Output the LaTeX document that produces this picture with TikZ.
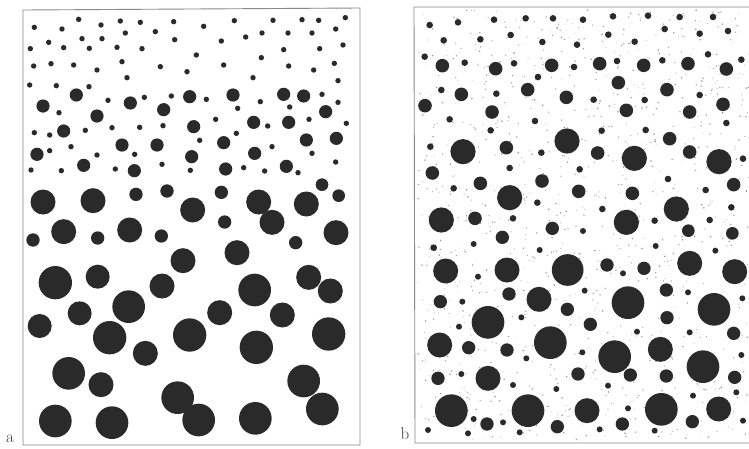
\documentclass[tikz,border=0pt]{standalone}
\usepackage{tikz}
\definecolor{dotc}{HTML}{2A2A2A}
\definecolor{framec}{HTML}{8A8A8A}
\definecolor{specc}{HTML}{9A9A9A}
\tikzset{
  frameline/.style={draw=framec, line width=0.9pt},
  panellabel/.style={font=\fontsize{17}{19}\selectfont, text=black!75, inner sep=0pt, anchor=base}
}
\begin{document}
\begin{tikzpicture}[x=1pt,y=-1pt]
\useasboundingbox[fill=white] (0,0) rectangle (749,448);

% ---------- panel a frame ----------
\draw[frameline] (23,10) -- (23,445) -- (360,445) -- (360,8) -- cycle;
\node[panellabel] (la) at (10,442) {a};

% panel a, upper part (small dots)
\foreach \x/\y in {155/43,222/60,280/48,340/52,440/50,530/64,622/47,738/46,825/44,875/46,955/38,22/67,105/72,926/72,
295/84,385/80,165/101,225/101,65/112,443/104,583/108,656/96,705/84,783/84,855/84,
10/131,110/128,187/130,270/127,345/131,770/134,878/131,948/120,
508/150,703/158,20/183,72/176,140/180,210/195,285/170,400/185,480/200,590/180,785/183,860/195,922/175,
300/218,678/218,8/240,88/242,186/245,933/227,
243/286,352/277,433/273,538/283,700/290,632/310,788/306,885/268,933/292,96/323,566/343,722/363,846/343,958/355,22/383,68/390,175/376,255/368,338/367,408/362,628/385,518/406,132/425,68/437,210/450,323/448,735/425,855/445,926/471,12/495,103/497,265/492,405/478,490/496,650/488,713/498,813/503}
  \fill[dotc] ({27+\x/3},{5+\y/3}) circle[radius=2.7];
% panel a, upper part (medium dots)
\foreach \x/\y in {148/270,48/303,310/294,410/314,488/275,618/270,770/268,830/273,896/320,210/333,500/365,680/352,785/352,110/378,285/420,390/420,590/413,838/405,928/400,30/448,494/455,683/445,170/481,322/497,596/492,778/484}
  \fill[dotc] ({27+\x/3},{5+\y/3}) circle[radius=6.6];
% panel a, lower part
\foreach \x/\y/\d in {48/66/75,198/62/75,327/43/40,420/33/40,497/90/75,583/37/40,695/66/75,735/127/75,838/72/75,885/14/38,935/47/38,110/155/75,18/180/40,212/174/40,308/150/75,403/168/40,593/126/40,806/188/40,927/158/75,468/242/75,630/218/75,85/308/100,212/290/72,405/318/75,683/330/98,845/292/75,910/333/75,305/380/98,158/400/72,578/398/75,766/405/75,38/438/72,248/473/100,488/465/100,355/520/75,688/502/100,905/462/100,125/580/98,222/614/75,830/603/98,452/653/98,886/687/98,85/723/98,255/728/98,515/720/98,685/715/98}
  \fill[dotc] ({27+\x/3},{180+\y/3}) circle[radius={\d/6}];

% ---------- panel b ----------
% speckles
\pgfmathsetseed{4242}
\foreach \i in {1,...,1100}{
  \pgfmathsetmacro\px{417+332*rnd}
  \pgfmathsetmacro\py{10+430*rnd}
  \pgfmathsetmacro\pr{0.35+0.55*rnd}
  \fill[specc] (\px,\py) circle[radius=\pr];
}
\draw[frameline] (760,7) -- (414,7) -- (415,443) -- (760,443);
\node[panellabel] (lb) at (405,439) {b};

% zoom-6 region (upper part)
\foreach \x/\y in {50/60,135/52,243/44,338/40,420/40,510/44,600/34,705/32,800/36,900/36,755/72,945/78,860/86,92/106,202/103,293/90,388/111,492/119,586/89,665/110,35/155,155/173,303/175,483/186,612/168,748/166,885/148,985/164,375/216,85/255,250/266,542/284,695/285,860/270,110/343,233/376,366/348,566/377,698/375,940/354,52/425,385/443,290/489,500/493,765/522,878/555,122/550,373/593,568/612,955/607,300/640,725/647,890/645,990/461}
  \fill[dotc] ({413+\x/3},{5+\y/3}) circle[radius=3.3];
\foreach \x/\y in {88/182,248/191,416/181,560/176,692/181,825/176,940/192,145/268,344/254,460/277,616/233,762/254,36/302,237/321,640/316,830/321,930/298,280/428,554/444,770/401,830/441,58/504,202/535,387/528,497/559,658/565,962/539,186/640}
  \fill[dotc] ({413+\x/3},{5+\y/3}) circle[radius=6.8];
\foreach \x/\y in {150/440,462/408,664/460,918/470,290/578,790/612,85/645,640/652}
  \fill[dotc] ({413+\x/3},{5+\y/3}) circle[radius=12.6];
% zoom-8 region (lower part)
\foreach \x/\y/\d in {418/25/40,510/33/18,826/32/38,958/40/38,268/52/40,182/72/18,62/83/20,380/90/18,728/78/18,907/92/18,
98/153/75,282/150/75,464/150/95,582/135/40,693/145/40,830/130/75,965/155/75,195/170/18,630/160/18,
82/245/40,148/245/18,288/222/40,378/238/75,515/212/18,463/268/40,645/248/98,760/210/40,825/217/18,903/268/98,988/235/18,
225/307/98,325/292/18,532/313/40,762/293/40,138/320/18,672/335/18,830/337/18,962/340/40,
80/375/75,167/383/40,282/390/40,412/368/98,605/410/98,742/388/75,508/397/18,340/415/18,870/440/98,985/405/18,
75/475/40,145/462/18,225/475/75,495/462/40,652/465/40,760/468/40,965/472/40,300/495/18,430/507/18,585/497/18,840/527/18,970/517/18,
115/572/98,345/572/98,522/572/75,745/568/98,917/567/75,645/565/18,182/597/18,222/612/40,270/607/18,433/620/40,628/612/40,838/605/40,990/602/18,45/630/18,165/640/18,320/637/18,560/628/18,725/632/18}
  \fill[dotc] ({413+\x/3},{220+\y/3}) circle[radius={\d/6}];
\end{tikzpicture}
\end{document}
